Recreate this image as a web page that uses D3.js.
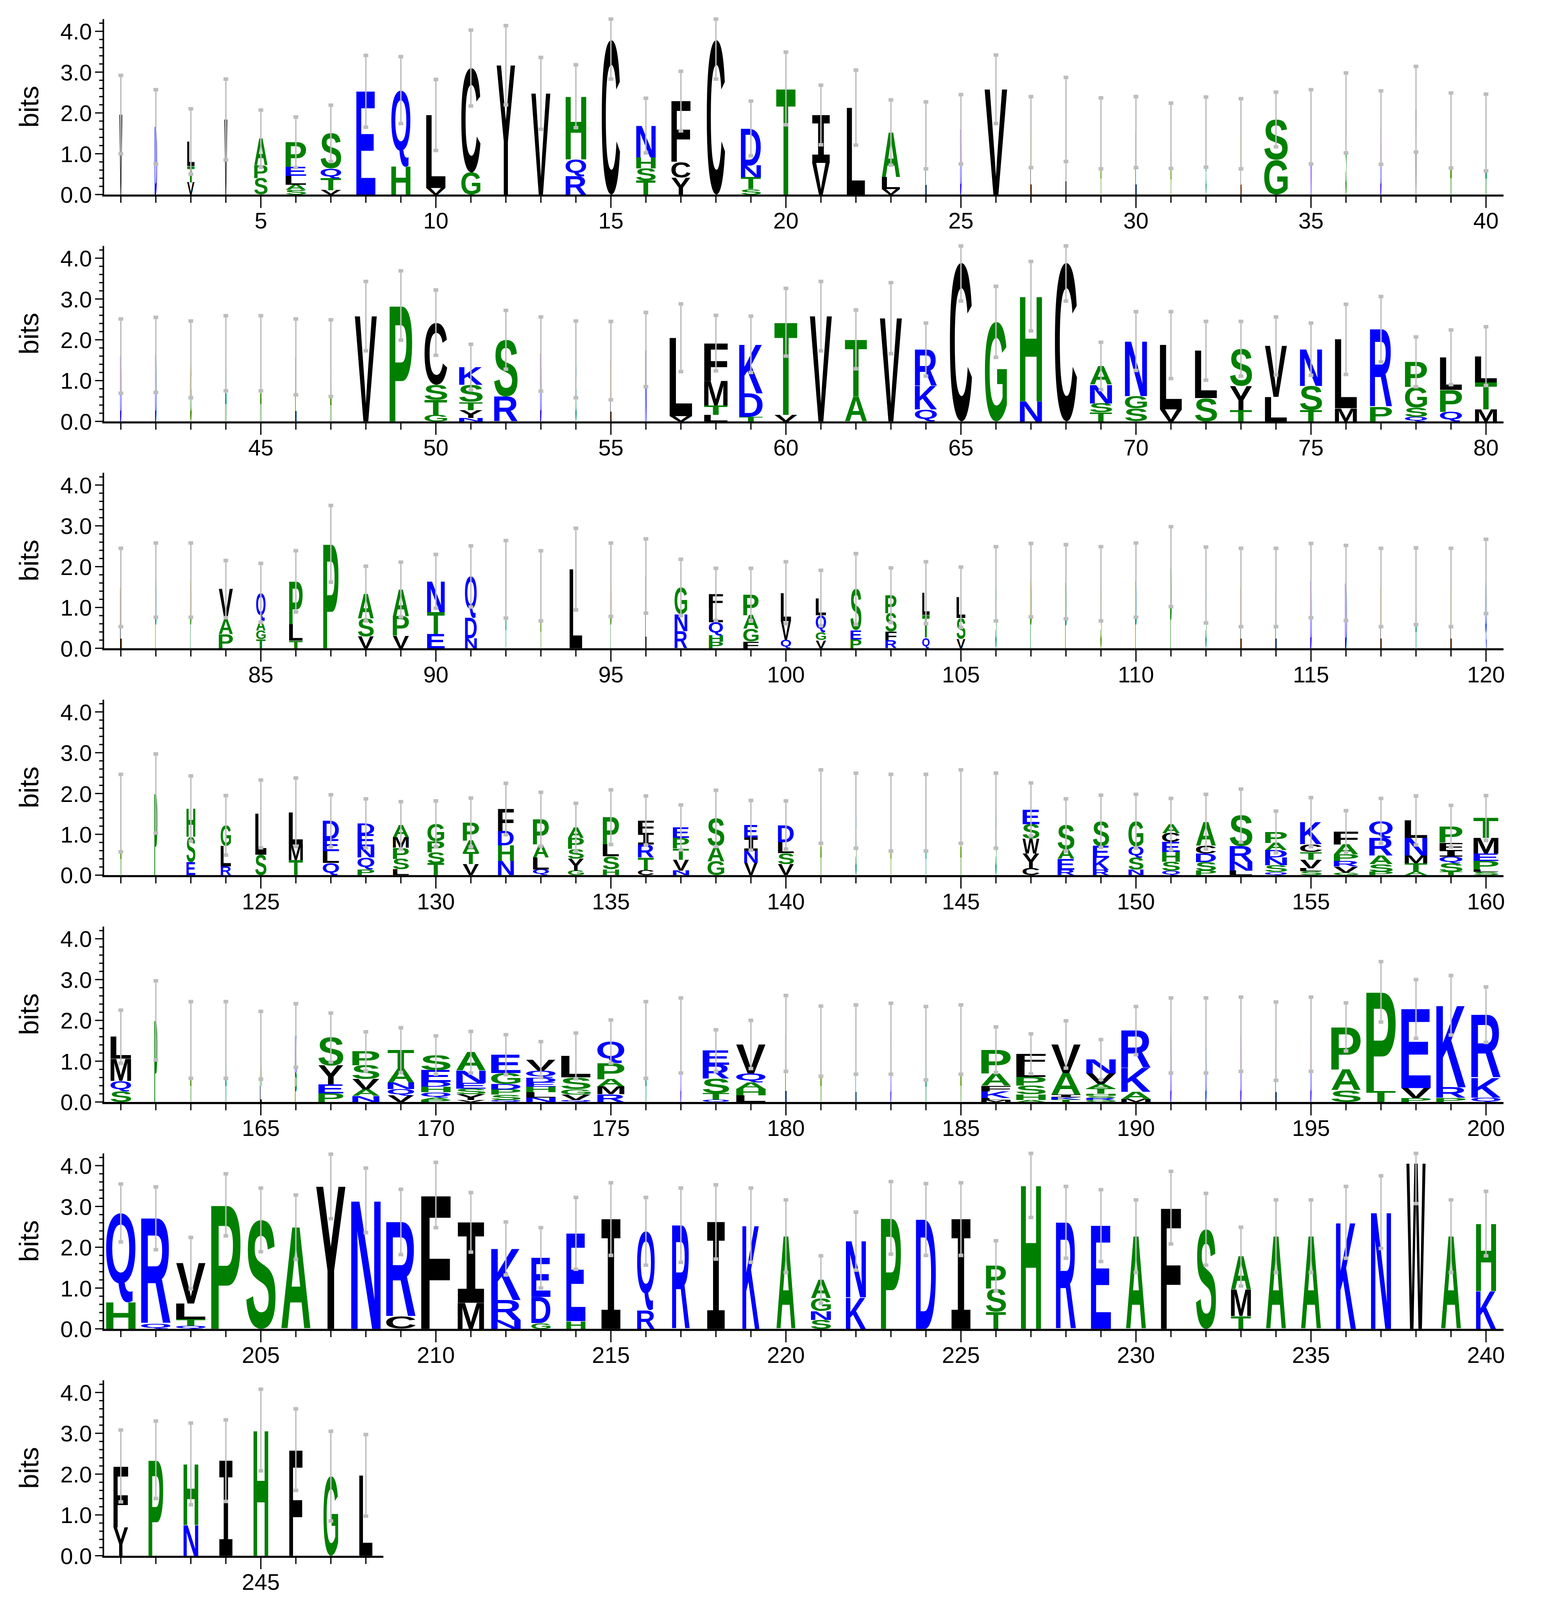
<!DOCTYPE html>
<html><head><meta charset="utf-8">
<script src="https://cdn.jsdelivr.net/npm/d3@7"></script>
<style>body{margin:0;background:#fff}</style>
</head><body>
<script>
// letters listed top -> bottom with heights in bits
const stacks = [
"V1.96","D1.66","L.6T.4V.3","V1.84","A.65P.32S.4","P.6E.22L.22A.13S.11","S.86Q.24T.29V.11","E2.53","Q1.87H.69","L1.79V.16",
"C2.56G.54","Y3.17","V2.48","H1.55Q.41R.45","C3.79","N.78H.27S.3T.34","F1.49C.38Y.42","C3.79","D.91N.29T.29S.13","T2.6",
"I1.17V.78","L2.13","A1.1L.29V.13","L1.45","D1.6","V2.58","L1.53","I1.84","A1.5","L1.53",
"A1.44","G1.53","L1.49","S.99G.85","N1.66","S2.0","D1.64","V2.09","A1.57","A1.52",
"D1.6","D1.63","G1.52","A1.67","A1.67","L1.58","A1.55","V2.58","P2.84","C1.52S.37T.37G.16",
"K.43S.42T.2Y.2N.08","S1.39R.61","D1.65","G1.52","L1.49","N1.76","L1.92V.13","F.93M.6T.23L.16","K1.2D.58T.11","T2.27V.16",
"V2.58","T1.4A.61","V2.53","R.89K.58Q.29","C3.89","G2.44","H2.58N.49","C3.89","A.46N.46S.22T.22","N1.35G.3S.32",
"L1.58V.29","L1.16S.57","S.91Y.59T.28","V1.25L.6","N.9S.59T.28","L1.69M.32","R1.9P.36","P.62G.5S.23Q.11","L.8P.53Q.24","L.64T.67M.29",
"L1.49","P1.67","P1.67","V.73A.37P.35","Q.69A.24G.21T.22","P1.05L.4T.19","P2.56","A.61S.44V.29","A.65P.48V.31","N.75T.54E.35",
"Q1.02D.5N.24","A1.69","A1.53","L1.94","P1.68","L1.77","G.65N.42R.42","F.34L.34Q.32H.16P.16","P.51A.33G.32F.16","L.69V.46Q.21",
"L.42Q.42G.19V.2","S1.01E.22P.22","P.44S.45F.21R.2","L.54T.56Q.26","L.51S.51V.23","S1.58","P1.67","P1.63","S1.58","P1.67",
"P2.0","S1.55","L1.49","L1.49","D1.66","D1.6","L1.49","A1.52","L1.49","Q1.76",
"A1.52","P2.0","H.69S.62E.32","G.51L.5R.21","L1.0S.5","L.79M.38T.37","D.45E.29L.29Q.3","D.27E.3N.27Q.29P.14","A.29M.26P.27S.26L.14","G.43P.27S.27T.29",
"P.44A.29T.29V.27","F.54D.35H.38N.35","P.62A.32L.29Q.14","A.26P.27S.24Y.29G.11","P.66L.3S.32H.14","F.3I.29R.32T.3C.13","E.26P.26T.27V.27N.11","S.68A.37G.34","E.3I.32N.3V.3","D.42L.27S.27V.27",
"A1.68","S1.58","A1.53","A1.53","A1.68","S1.58","E.36S.35W.37Y.35C.18","S.59A.24E.27R.13","S.61E.29K.29R.13","G.62Q.27S.3N.13",
"A.22C.22E.24H.24S.22Q.11","A.58C.2D.21S.21P.11","S.75R.38N.22L.11","P.27A.18D.18N.19S.16Q.08","K.54C.19T.19V.21L.07S.1","F.32A.24P.16R.14V.15G.06","Q.42R.43A.21S.19P.08","L.43N.43M.19T.21A.08","P.4F.19I.16Q.16S.21T.08","T.49M.38E.18P.21L.06S.08",
"L.54M.54Q.26S.26","P2.0","A1.52","A1.52","A1.0L.39","K.9P.73","S.69Y.46E.22P.21","P.34S.34V.25A.16N.15","T.45A.34N.16Q.16V.16","S.37E.29D.12H.13Q.13A.05P.06",
"A.45N.3E.14S.14Y.14V.05","E.45G.27D.13P.13S.13Q.05","V.27Q.18D.11E.11H.13L.13N.11","L.53S.29G.13V.13Q.05","Q.52P.4A.18M.19R.19","A1.52","D1.63","E.35R.34S.35T.16Q.06","V.71Q.22A.16H.16L.16","L1.68",
"A1.49","L1.53","D1.55","A1.44","A1.53","P.58A.3F.14K.16L.05M.05","F.3L.27P.21S.21H.14A.05","V.7A.53I.06K.06T.06","N.34V.26A.11T.13H.05S.05R.05G.05","R.91K.59A.18M.07",
"D1.63","D1.63","D1.66","L1.49","D1.66","P1.04A.51S.29","P2.43T.27","E1.94V.24P.1","K2.01R.26P.1","R1.55K.48Q.11",
"Q2.19H.65","R2.58Q.13","V.99L.38T.16Q.08","P3.04","S2.67","A2.49","Y3.49","N3.15","R2.32C.3","F3.28",
"I1.97M.64","K1.26R.49N.22","E.96D.64G.14","E2.15H.19","I2.69","Q1.93R.46","R2.54","I2.62","K2.54","A2.27",
"A.46G.32N.21S.22","N1.38K.77","P2.72","D2.68","I2.69","P.57S.56T.42","H3.53","R2.61","E2.53","A2.27",
"F2.97","S2.44","A.81M.65T.31","A2.27","A2.27","K2.61","N2.86","W4.06","A2.27","H1.65K.93",
"F1.5Y.7","P2.35","H1.5N.75","I2.33","H3.08","F2.6","G1.95","L1.97"
];
const widths = [
.1,.08,.25,.1,.45,.7,.7,.65,.65,.66,.65,.63,.65,.7,.62,.66,.65,.62,.68,.66,
.6,.62,.62,.04,.05,.77,.04,.03,.03,.04,.03,.03,.03,.8,.03,.04,.04,.04,.05,.05,
.05,.05,.05,.05,.05,.04,.05,.75,.77,.77,.8,.8,.05,.04,.04,.05,.77,.8,.8,.78,
.75,.75,.75,.75,.75,.75,.75,.75,.75,.75,.75,.75,.75,.75,.75,.75,.75,.75,.75,.75,
.05,.04,.04,.48,.32,.46,.52,.54,.55,.6,.4,.03,.03,.43,.04,.04,.43,.48,.52,.35,
.35,.37,.38,.25,.3,.04,.05,.05,.04,.05,.05,.04,.04,.04,.05,.06,.04,.04,.04,.05,
.04,.1,.3,.35,.38,.48,.55,.57,.54,.57,.55,.54,.54,.54,.55,.54,.55,.57,.46,.54,
.04,.04,.03,.03,.04,.04,.57,.57,.55,.51,.6,.68,.77,.74,.74,.83,.8,.77,.78,.85,
.7,.1,.04,.04,.06,.06,.85,.92,.9,1,1,1,1,1,.92,.04,.03,.9,1,.04,
.04,.03,.03,.04,.04,1,1,1,1,1,.04,.04,.04,.04,.04,1,1,1,1,1,
1,1,1,1,1,1,1,1,1,1,.9,1,.65,.65,.65,.6,.6,.6,.58,.65,
.68,.68,.68,.68,.65,.68,.68,.68,.68,.68,.68,.68,.68,.68,.68,.68,.68,.65,.68,.68,
.5,.5,.5,.45,.5,.45,.5,.45
];
const errors = [
.96,.91,.8,.99,.7,.62,.69,.88,.82,.87,.93,.97,.88,.77,.96,.67,.73,.96,.67,.89,
.73,.92,.8,.82,.85,.84,.87,1.03,.87,.87,.8,.86,.86,.67,.91,.98,.9,1.05,.92,.94,
.91,.92,.94,.92,.92,.93,.94,.85,.85,.8,.56,.72,.91,.94,.96,.91,.83,.68,.69,.83,
.85,.72,.87,.65,.94,.87,.85,.94,.58,.72,.82,.72,.67,.71,.64,.86,.8,.61,.67,.72,
.96,.91,.91,.7,.72,.75,.94,.67,.67,.66,.75,.95,.86,1.0,.9,.91,.69,.64,.64,.76,
.68,.87,.67,.76,.74,.91,.9,.91,.91,.91,.98,.93,.96,.96,.91,.92,.96,.94,.96,.91,
.95,.97,.8,.73,.83,.84,.64,.6,.58,.56,.6,.63,.66,.59,.67,.6,.55,.69,.61,.59,
.9,.92,.94,.94,.9,.92,.65,.64,.64,.66,.63,.67,.65,.51,.6,.51,.55,.6,.51,.55,
.65,.97,.94,.94,.83,.78,.6,.48,.55,.47,.51,.49,.44,.56,.53,.94,.92,.51,.59,.93,
.86,.85,.87,.9,.85,.56,.49,.58,.49,.59,.92,.92,.91,.96,.91,.59,.74,.72,.73,.68,
.71,.77,.63,.76,.78,.79,.79,.79,.8,.8,.73,.65,.74,.88,.89,.83,.91,.91,.91,.89,
.58,.71,.89,.88,.89,.61,.8,.88,.88,.89,.89,.88,.72,.89,.89,.88,.89,.99,.89,.79,
.88,.95,1.0,1.0,1.0,1.0,1.1,1.0
];
const yTicks = [0,1,2,3,4];
const yTickLabels = ["0.0","1.0","2.0","3.0","4.0"];
const perRow = 40;
const maxBits = 4.32;

const svg = d3.select("body").append("svg")
  .attr("width",3967).attr("height",4167)
  .attr("viewBox","0 0 1500 1575");
svg.append("rect").attr("width",1500).attr("height",1575).attr("fill","#fff");

const canvas = document.createElement("canvas");
const ctx = canvas.getContext("2d");
const fontFor = ch => ch==="I" ? "'DejaVu Sans Mono'" : "'Liberation Sans', Arial, sans-serif";
const inkCache = {};
function ink(ch){
  if(inkCache[ch]) return inkCache[ch];
  ctx.font = "bold 200px " + fontFor(ch);
  const m = ctx.measureText(ch);
  return inkCache[ch] = {l:-m.actualBoundingBoxLeft, r:m.actualBoundingBoxRight, t:-m.actualBoundingBoxAscent, b:m.actualBoundingBoxDescent};
}
const colorOf = c => "RKDENQ".includes(c) ? "#0000ff" : ("SGHTAP".includes(c) ? "#008000" : "#000000");
const parse = s => Array.from(s.matchAll(/([A-Z])([\d.]+)/g)).map(m=>({c:m[1],h:+m[2]}));

const n = stacks.length;
const nRows = Math.ceil(n/perRow);
const rowH = 219.6, base0 = 188, bitPx = 39.5, stepMax = 28.5;

for(let r=0;r<nRows;r++){
  const first = r*perRow+1, last = Math.min(n, first+perRow-1);
  const base = base0 + r*rowH;
  const x = d3.scaleLinear().domain([first-0.5, first+perRow-0.5]).range([100, 1455]);
  const y = d3.scaleLinear().domain([0, 4.3]).range([base, base-4.3*bitPx]);
  const g = svg.append("g");

  // letters
  for(let p=first;p<=last;p++){
    const letters = parse(stacks[p-1]).reverse();
    const W = stepMax*widths[p-1];
    const cx = x(p);
    let cum = 0;
    letters.forEach(L=>{
      const y0 = y(cum+L.h), y1 = y(cum);
      cum += L.h;
      const b = ink(L.c);
      const sx = W/(b.r-b.l), sy = (y1-y0)/(b.b-b.t);
      g.append("text").text(L.c)
        .attr("font-family", fontFor(L.c)).attr("font-weight","bold").attr("font-size",200)
        .attr("fill", colorOf(L.c))
        .attr("transform",`translate(${cx-W/2},${y0}) scale(${sx},${sy}) translate(${-b.l},${-b.t})`);
    });
    // error bar
    const e = errors[p-1];
    const hi = Math.min(cum+e, maxBits-0.02), lo = Math.max(cum-e, 0);
    g.append("line").attr("x1",cx).attr("x2",cx).attr("y1",y(hi)).attr("y2",y(lo))
      .attr("stroke","#bdbdbd").attr("stroke-width",1.3);
    [hi,lo].forEach(v=>g.append("rect").attr("x",cx-2.3).attr("y",y(v)-1.7).attr("width",4.6).attr("height",3.4).attr("fill","#bdbdbd"));
  }

  // x axis
  const xEnd = x(last+0.5);
  g.append("line").attr("x1",99).attr("x2",xEnd).attr("y1",base+1).attr("y2",base+1).attr("stroke","#000").attr("stroke-width",2);
  for(let p=first;p<=last;p++){
    const major = p%5===0;
    g.append("line").attr("x1",x(p)).attr("x2",x(p)).attr("y1",base+1).attr("y2",base+(major?13:8)).attr("stroke","#000").attr("stroke-width",1.2);
    if(major) g.append("text").text(p).attr("x",x(p)).attr("y",base+33).attr("text-anchor","middle")
      .attr("font-family","'Liberation Sans', Arial, sans-serif").attr("font-size",22);
  }
  // y axis
  g.append("line").attr("x1",100).attr("x2",100).attr("y1",base+1).attr("y2",y(4.3)).attr("stroke","#000").attr("stroke-width",1.5);
  d3.range(0,4.31,0.2).forEach(v=>{
    const major = Math.abs(v-Math.round(v))<1e-6;
    g.append("line").attr("x1",100-(major?8:4)).attr("x2",100).attr("y1",y(v)).attr("y2",y(v)).attr("stroke","#000").attr("stroke-width",1.2);
  });
  yTicks.forEach((v,i)=>g.append("text").text(yTickLabels[i]).attr("x",89).attr("y",y(v)+8).attr("text-anchor","end")
    .attr("font-family","'Liberation Sans', Arial, sans-serif").attr("font-size",22));
  g.append("text").text("bits").attr("transform",`translate(37,${base-85}) rotate(-90)`).attr("text-anchor","middle")
    .attr("font-family","'Liberation Sans', Arial, sans-serif").attr("font-size",26);
}
svg.append("text").text("WebLogo 3.4").attr("x",1455).attr("y",1562).attr("text-anchor","end")
  .attr("font-family","'Liberation Sans', Arial, sans-serif").attr("font-size",17);
</script>
</body></html>
